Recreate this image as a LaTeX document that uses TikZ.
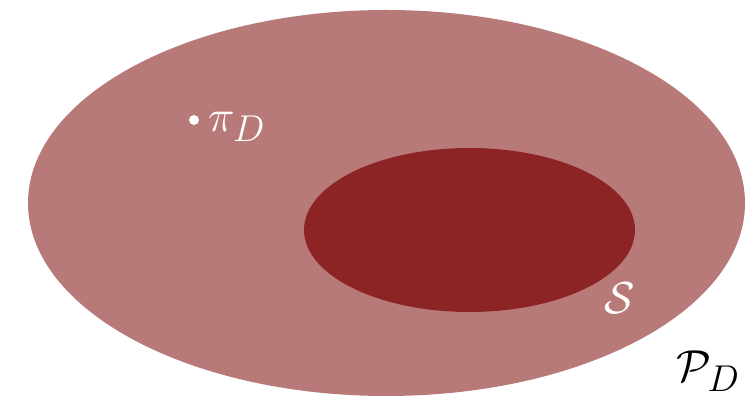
\documentclass[tikz,border=0pt]{standalone}
\usepackage{amsmath}
\usepackage{graphicx}
\definecolor{outerc}{HTML}{B77A78}
\definecolor{innerc}{HTML}{8C2426}
\tikzset{
  lbl/.style={inner sep=0pt, font=\Huge},
}
\newcommand{\bigmath}[1]{\scalebox{1.8}{$#1$}}
\begin{document}
\begin{tikzpicture}[x=1pt,y=1pt]
\useasboundingbox (0,0) rectangle (745,398);
\fill[white] (0,0) rectangle (745,398);
\fill[outerc] (386.5,195) ellipse [x radius=358.5, y radius=193];
\fill[innerc] (469.5,168) ellipse [x radius=165.5, y radius=82];
\fill[white] (194,278) circle (5);
\node[lbl, text=white, anchor=west] (pi) at (208,271) {\bigmath{\pi_D}};
\node[lbl, text=white] (S) at (620,100) {\bigmath{\mathcal{S}}};
\node[lbl, text=black, anchor=south east] (P) at (740,6) {\bigmath{\mathcal{P}_D}};
\end{tikzpicture}
\end{document}
